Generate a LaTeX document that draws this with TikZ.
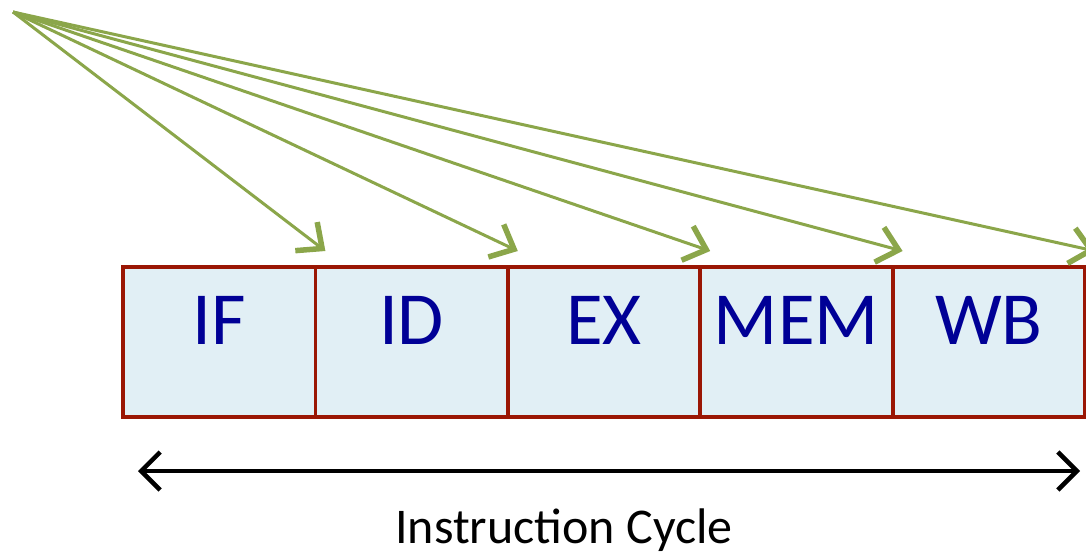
\documentclass[tikz,border=0pt]{standalone}
\usepackage{fontspec}
\setmainfont{Carlito}
\usetikzlibrary{positioning,arrows.meta}

\definecolor{fetchgreen}{RGB}{139,166,74}
\definecolor{stagered}{RGB}{154,22,4}
\definecolor{stagefill}{RGB}{225,239,245}
\definecolor{stagetext}{RGB}{0,0,150}

\tikzset{
  stage/.style={draw=stagered, fill=stagefill, line width=3.8pt,
    minimum width=192.4pt, minimum height=150pt, outer sep=0pt, inner sep=0pt,
    text=stagetext, font=\fontsize{75}{78}\selectfont,
    text height=60pt, text depth=56pt},
  fetch/.style={draw=fetchgreen, line width=3pt,
    -{Straight Barb[length=20pt,width=36pt,line width=5.5pt]}},
  span/.style={draw=black, line width=4pt,
    {Straight Barb[length=19pt,width=38pt,line width=4.5pt]}-{Straight Barb[length=19pt,width=38pt,line width=4.5pt]}}
}

\begin{document}
\begin{tikzpicture}[x=1pt,y=-1pt]
  \useasboundingbox (0,0) rectangle (1086,558);

  % the five pipeline stages
  \node[stage, anchor=north west] (if) at (123,267) {IF};
  \node[stage, right=0pt of if] (id) {ID};
  \node[stage, right=0pt of id] (ex) {EX};
  \node[stage, right=0pt of ex] (mem) {MEM};
  \node[stage, right=0pt of mem] (wb) {WB};

  % one source fanning out to every stage
  \coordinate (src) at (13,12);
  \foreach \s in {if,id,ex,mem,wb}
    \draw[fetch] (src) -- ([shift={(10pt,16pt)}]\s.north east);

  % cycle span underneath
  \coordinate (cycL) at ([shift={(15pt,-54pt)}]if.south west);
  \coordinate (cycR) at ([shift={(-5pt,-54pt)}]wb.south east);
  \draw[span] (cycL) -- (cycR);
  \node[font=\fontsize{50}{54}\selectfont] (cycle) at (564,530) {Instruction Cycle};
\end{tikzpicture}
\end{document}
